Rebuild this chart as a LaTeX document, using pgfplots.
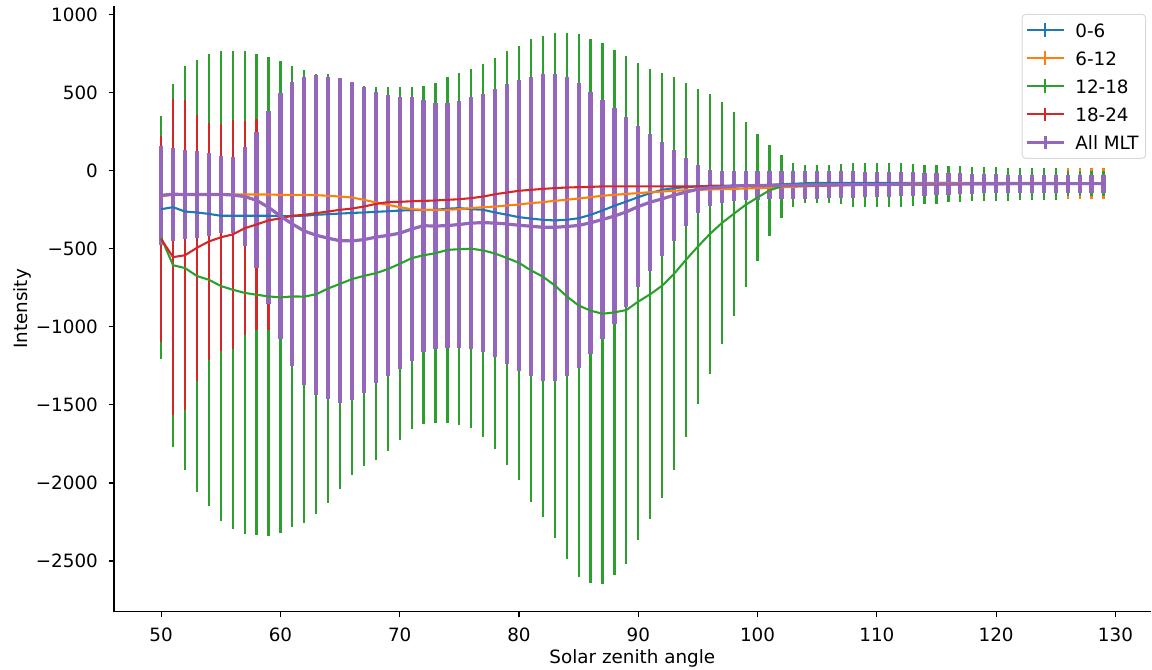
\documentclass[border=0pt]{standalone}
\usepackage{fontspec}
\setmainfont{DejaVu Sans}
\usepackage{pgfplots}
\usepackage{pgfplotstable}
\pgfplotsset{compat=1.18}

\definecolor{c0}{HTML}{1F77B4}
\definecolor{c1}{HTML}{FF7F0E}
\definecolor{c2}{HTML}{2CA02C}
\definecolor{c3}{HTML}{D62728}
\definecolor{c4}{HTML}{9467BD}

% x: solar zenith angle; m*/e*: mean and std for 0-6, 6-12, 12-18, 18-24, All MLT
\pgfplotstableread{
x   m0   e0   m1   e1   m2   e2    m3   e3    m4   e4
50  -246 280  -165 280  -427 780   -437 657   -157 317
51  -233 280  -152 280  -605 1163  -553 1012  -150 297
52  -261 280  -152 280  -623 1294  -541 992   -152 287
53  -267 280  -152 280  -674 1383  -493 852   -152 280
54  -276 280  -152 280  -698 1448  -453 759   -152 265
55  -288 280  -152 280  -738 1503  -426 727   -151 249
56  -288 280  -152 280  -762 1531  -408 735   -155 245
57  -288 280  -152 280  -782 1547  -368 684   -165 315
58  -288 280  -152 280  -794 1542  -344 675   -189 435
59  -288 280  -152 280  -805 1536  -318 701   -234 619
60  -290 350  -154 350  -811 1512  -304 680   -290 790
61  -290 350  -154 350  -805 1476  -288 680   -341 907
62  -288 350  -154 350  -806 1453  -282 680   -386 986
63  -282 350  -156 350  -791 1408  -271 670   -413 1024
64  -278 350  -160 350  -754 1372  -261 660   -432 1032
65  -274 350  -165 350  -724 1316  -250 650   -448 1041
66  -270 350  -171 350  -694 1253  -242 630   -449 1019
67  -267 350  -186 350  -673 1216  -229 610   -441 980
68  -263 350  -203 350  -656 1196  -212 590   -425 933
69  -259 350  -218 350  -630 1165  -201 570   -414 900
70  -255 350  -233 350  -596 1130  -199 550   -400 870
71  -252 350  -246 350  -560 1094  -195 540   -373 843
72  -251 350  -250 350  -541 1083  -193 530   -352 807
73  -250 350  -250 350  -528 1089  -190 520   -354 788
74  -243 350  -250 350  -507 1107  -186 510   -351 787
75  -239 350  -246 350  -502 1126  -182 500   -344 790
76  -246 350  -239 350  -499 1151  -175 500   -335 805
77  -250 350  -233 350  -510 1194  -165 500   -332 826
78  -267 350  -229 350  -530 1254  -150 500   -335 859
79  -282 350  -222 350  -559 1328  -139 500   -341 896
80  -297 350  -216 350  -590 1391  -128 500   -349 932
81  -306 350  -207 350  -638 1484  -122 500   -355 959
82  -314 350  -201 350  -678 1543  -116 500   -362 984
83  -318 350  -192 350  -734 1616  -111 500   -362 984
84  -314 350  -186 350  -804 1684  -107 500   -357 957
85  -304 350  -177 350  -863 1739  -105 480   -350 912
86  -282 350  -169 350  -896 1742  -103 450   -333 841
87  -254 350  -160 350  -916 1732  -100 420   -312 767
88  -224 350  -154 350  -907 1683  -100 380   -290 694
89  -197 350  -148 350  -892 1629  -100 330   -263 607
90  -169 350  -143 350  -838 1528  -100 280   -229 517
91  -143 350  -137 350  -791 1443  -100 240   -201 438
92  -122 350  -133 350  -736 1362  -100 200   -180 366
93  -111 350  -128 350  -660 1258  -100 160   -156 291
94  -105 350  -124 350  -570 1134  -100 120   -136 215
95  -100 350  -122 350  -485 1009  -100 100   -118 153
96  -96  300  -120 300  -405 896   -99  90    -109 115
97  -96  280  -118 280  -335 775   -99  85    -105 103
98  -94  250  -116 250  -276 654   -98  80    -98  94
99  -94  220  -113 220  -218 528   -98  80    -95  91
100 -94  180  -111 180  -171 406   -97  75    -95  91
101 -90  120  -109 140  -125 291   -96  60    -93  90
102 -86  100  -106 110  -100 202   -96  60    -93  90
103 -83  75   -103 85   -91  144   -95  60    -92  89
104 -80  70   -100 85   -87  121   -95  60    -92  88
105 -77  70   -97  85   -86  120   -94  60    -91  87
106 -77  70   -95  85   -84  120   -93  60    -90  86
107 -77  70   -93  85   -86  129   -92  60    -89  85
108 -77  70   -91  85   -90  139   -91  60    -88  84
109 -77  70   -89  85   -90  143   -90  60    -88  83
110 -77  70   -87  85   -91  144   -90  60    -87  82
111 -77  70   -85  85   -91  144   -89  60    -87  80
112 -77  70   -83  85   -90  139   -88  60    -86  78
113 -77  70   -81  85   -89  134   -88  60    -86  76
114 -77  70   -80  85   -87  127   -87  60    -85  74
115 -77  70   -78  85   -87  123   -87  60    -85  72
116 -77  70   -78  85   -85  118   -86  60    -84  70
117 -80  70   -78  90   -85  113   -86  60    -84  67
118 -80  70   -78  90   -85  111   -85  60    -83  64
119 -80  70   -78  90   -85  109   -85  60    -83  62
120 -80  70   -78  90   -85  107   -85  60    -83  60
121 -80  70   -78  90   -85  106   -84  50    -82  58
122 -80  70   -78  90   -85  105   -84  50    -82  58
123 -80  70   -78  90   -85  104   -84  50    -82  58
124 -80  70   -78  90   -85  103   -84  50    -82  58
125 -80  70   -78  90   -85  102   -84  50    -82  58
126 -80  70   -80  100  -80  80    -84  50    -82  58
127 -80  70   -80  100  -80  80    -84  50    -82  58
128 -80  70   -80  100  -80  80    -84  50    -82  58
129 -80  70   -80  100  -80  80    -84  50    -82  58
}\sza

\pgfplotsset{
  ebar/.style 2 args={forget plot, draw=none, mark=none,
    error bars/.cd, y dir=both, y explicit, error mark=none,
    error bar style={draw=#1, line width=#2}},
}

\begin{document}
\begin{tikzpicture}
\useasboundingbox (-82.1pt,-41.8pt) rectangle (747.4pt,440.6pt);
\begin{axis}[
    scale only axis,
    width=746.4pt, height=436.3pt,
    xmin=46.05, xmax=132.95,
    ymin=-2826, ymax=1056,
    axis x line*=bottom, axis y line*=left,
    axis line style={-, line width=0.8pt},
    tick align=outside,
    major tick length=3.9pt,
    tick style={black, line width=0.8pt},
    xtick={50,60,...,130},
    ytick={-2500,-2000,-1500,-1000,-500,0,500,1000},
    yticklabels={−2500,−2000,−1500,−1000,−500,0,500,1000},
    /pgf/number format/assume math mode=true,
    ticklabel style={font=\fontsize{13.2}{15}\selectfont},
    xticklabel style={yshift=-4.2pt},
    yticklabel style={xshift=-4.2pt},
    xlabel={Solar zenith angle},
    ylabel={Intensity},
    label style={font=\fontsize{13.2}{15}\selectfont},
    xlabel style={at={(axis description cs:0.5,-0.0776)}, anchor=center},
    ylabel style={at={(axis description cs:-0.0888,0.5)}, anchor=center},
    legend cell align=left,
    legend image code/.code={
        \draw[#1] (0pt,0pt) -- (27pt,0pt);
        \draw[#1] (13.5pt,-5pt) -- (13.5pt,5pt);
        \path (31pt,0pt);
    },
    legend style={at={(axis description cs:0.9956,0.9868)}, anchor=north east,
        draw=black!15, rounded corners=2.5pt, fill=white, fill opacity=0.8,
        text opacity=1, line width=0.7pt, inner xsep=2pt, inner ysep=2pt,
        row sep=1.4pt,
        nodes={inner xsep=3pt, inner ysep=4.4pt, text height=10pt, text depth=0pt},
        font=\fontsize{13.2}{15}\selectfont},
]
% error bars first, all mean lines on top
\addplot[ebar={c0}{1.6pt}] table[x=x, y=m0, y error=e0] {\sza};
\addplot[ebar={c1}{1.6pt}] table[x=x, y=m1, y error=e1] {\sza};
\addplot[ebar={c2}{1.6pt}] table[x=x, y=m2, y error=e2] {\sza};
\addplot[ebar={c3}{1.6pt}] table[x=x, y=m3, y error=e3] {\sza};
\addplot[ebar={c4}{3.0pt}] table[x=x, y=m4, y error=e4] {\sza};

\addplot[c0, line width=1.5pt, mark=none] table[x=x, y=m0] {\sza};
\addlegendentry{0-6}
\addplot[c1, line width=1.5pt, mark=none] table[x=x, y=m1] {\sza};
\addlegendentry{6-12}
\addplot[c2, line width=1.5pt, mark=none] table[x=x, y=m2] {\sza};
\addlegendentry{12-18}
\addplot[c3, line width=1.5pt, mark=none] table[x=x, y=m3] {\sza};
\addlegendentry{18-24}
\addplot[c4, line width=2.3pt, mark=none] table[x=x, y=m4] {\sza};
\addlegendentry{All MLT}
\end{axis}
\end{tikzpicture}
\end{document}
